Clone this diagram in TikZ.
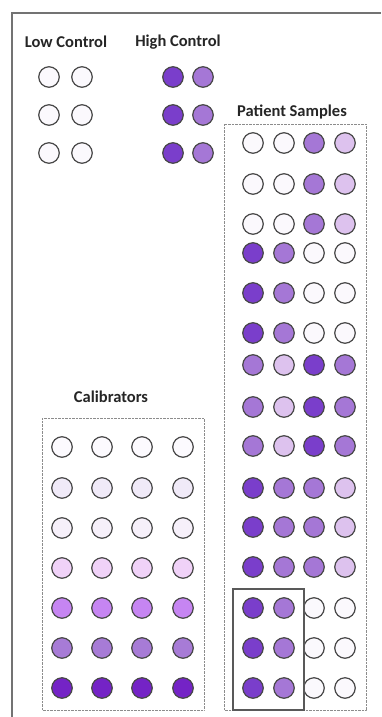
\documentclass[tikz,border=0pt]{standalone}
\usepackage{fontspec}
\setmainfont{Carlito}
\definecolor{pw}{HTML}{FBF9FD}
\definecolor{pd}{HTML}{7A3ECB}
\definecolor{pm}{HTML}{A577D6}
\definecolor{pl}{HTML}{DDC2EE}
\definecolor{ca}{HTML}{FCFAFE}
\definecolor{cb}{HTML}{F0EAF8}
\definecolor{cc}{HTML}{F6F0FA}
\definecolor{cd}{HTML}{F0D2F8}
\definecolor{ce}{HTML}{C685F2}
\definecolor{cf}{HTML}{A77BD6}
\definecolor{cg}{HTML}{7423C6}
\begin{document}
\begin{tikzpicture}[x=1pt,y=-1pt,
  well/.style={circle,minimum size=20.5pt,inner sep=0pt,draw=black!72,line width=1.2pt},
  lab/.style={font=\bfseries\fontsize{16.5}{18}\selectfont,text=black!85,inner sep=0pt},
  dotbox/.style={draw=black!45,line width=1pt,dash pattern=on 0.7pt off 0.7pt},
  solidbox/.style={draw=black!65,line width=1.2pt},
  frame/.style={draw=black!55,line width=1.6pt}]
\useasboundingbox (0,0) rectangle (381,717);
\fill[white] (0,0) rectangle (381,717);
\draw[frame] (12,717) -- (12,13) -- (381,13);
% labels
\node[lab] (lowlab) at (66,42) {Low Control};
\node[lab] (highlab) at (178,42) {High Control};
\node[lab] (patlab) at (292,112) {Patient Samples};
\node[lab] (callab) at (111,397) {Calibrators};
% controls
\foreach \y [count=\i] in {77,115,153} {
  \node[well,fill=pw] (lc\i-1) at (49,\y) {};
  \node[well,fill=pw] (lc\i-2) at (82,\y) {};
  \node[well,fill=pd] (hc\i-1) at (173,\y) {};
  \node[well,fill=pm] (hc\i-2) at (203,\y) {};
}
% patient samples
\draw[dotbox] (224,124) rectangle (366,710);
\foreach \y/\a/\b/\c/\d [count=\i] in {
  143/pw/pw/pm/pl, 184/pw/pw/pm/pl, 224/pw/pw/pm/pl,
  253/pd/pm/pw/pw, 293/pd/pm/pw/pw, 333/pd/pm/pw/pw,
  365/pm/pl/pd/pm, 407/pm/pl/pd/pm, 446/pm/pl/pd/pm,
  488/pd/pm/pm/pl, 527/pd/pm/pm/pl, 567/pd/pm/pm/pl,
  608/pd/pm/pw/pw, 648/pd/pm/pw/pw, 688/pd/pm/pw/pw} {
  \node[well,fill=\a] (p\i-1) at (253,\y) {};
  \node[well,fill=\b] (p\i-2) at (284,\y) {};
  \node[well,fill=\c] (p\i-3) at (314,\y) {};
  \node[well,fill=\d] (p\i-4) at (345,\y) {};
}
\draw[solidbox] (233,589) rectangle (304,710);
% calibrators
\draw[dotbox] (42,418) rectangle (204,710);
\foreach \y/\c [count=\i] in {447/ca,488/cb,528/cc,568/cd,608/ce,648/cf,688/cg} {
  \foreach \x [count=\j] in {62,102,142,183} {
    \node[well,fill=\c] (c\i-\j) at (\x,\y) {};
  }
}
\end{tikzpicture}
\end{document}
